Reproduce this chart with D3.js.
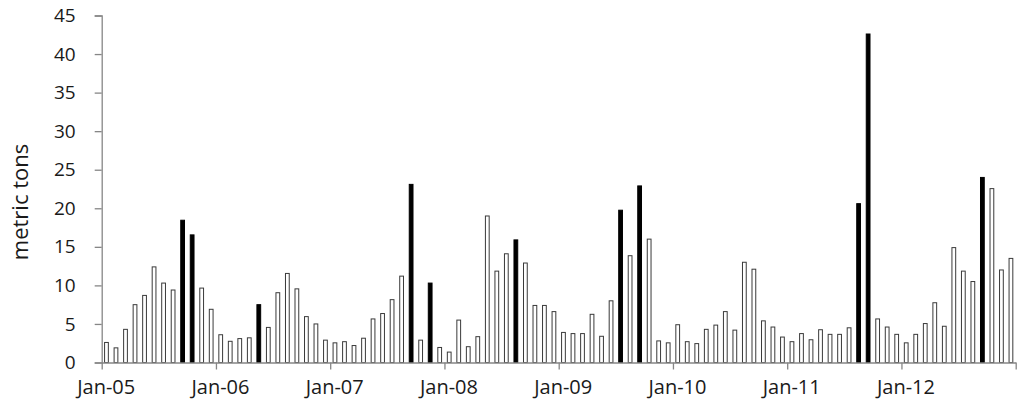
<!DOCTYPE html>
<html>
<head>
<meta charset="utf-8">
<script src="https://cdn.jsdelivr.net/npm/d3@7"></script>
<style>
  html, body { margin: 0; padding: 0; background: #fff; }
  svg { display: block; }
  text { font-family: "Open Sans", Lato, sans-serif; fill: #1a1a1a; }
</style>
</head>
<body>
<svg id="chart" width="1024" height="410"></svg>
<script>
// ---- data ----
const years = ["05", "06", "07", "08", "09", "10", "11", "12"];
const monthNames = ["Jan","Feb","Mar","Apr","May","Jun","Jul","Aug","Sep","Oct","Nov","Dec"];
const months = years.flatMap(y => monthNames.map(m => m + "-" + y));
const values = [
  // 2005
  2.6, 1.9, 4.3, 7.5, 8.7, 12.4, 10.3, 9.4, 18.45, 16.55, 9.65, 6.9,
  // 2006
  3.6, 2.75, 3.1, 3.2, 7.5, 4.55, 9.05, 11.55, 9.55, 5.95, 5.0, 2.9,
  // 2007
  2.55, 2.7, 2.2, 3.15, 5.65, 6.35, 8.15, 11.2, 23.1, 2.9, 10.3, 1.95,
  // 2008
  1.35, 5.5, 2.05, 3.35, 19.0, 11.85, 14.1, 15.9, 12.9, 7.4, 7.4, 6.6,
  // 2009
  3.9, 3.75, 3.75, 6.25, 3.4, 8.0, 19.75, 13.85, 22.9, 16.0, 2.8, 2.55,
  // 2010
  4.9, 2.7, 2.45, 4.3, 4.85, 6.6, 4.2, 13.0, 12.1, 5.4, 4.6, 3.3,
  // 2011
  2.7, 3.75, 2.95, 4.25, 3.65, 3.65, 4.5, 20.6, 42.6, 5.65, 4.6, 3.65,
  // 2012
  2.55, 3.65, 5.05, 7.75, 4.7, 14.9, 11.85, 10.5, 24.0, 22.55, 12.0, 13.5
];
const highlighted = ["Sep-05", "Oct-05", "May-06", "Sep-07", "Nov-07", "Aug-08",
                     "Jul-09", "Sep-09", "Aug-11", "Sep-11", "Sep-12"];
const yTicks = [0, 5, 10, 15, 20, 25, 30, 35, 40, 45];
const xTickLabels = ["Jan-05", "Jan-06", "Jan-07", "Jan-08", "Jan-09", "Jan-10", "Jan-11", "Jan-12", ""];
const yLabel = "metric tons";

// ---- layout ----
const x0 = 101.7, x1 = 1015.7, yTop = 15.5, yBot = 362.5;
const svg = d3.select("#chart");

const x = d3.scaleBand().domain(months).range([x0, x1]).paddingInner(0.5).paddingOuter(0.25);
const xIdx = d3.scaleLinear().domain([0, months.length]).range([x0, x1]);
const y = d3.scaleLinear().domain([0, 45]).range([yBot, yTop]);

const data = months.map((m, i) => ({ m, v: values[i], hi: highlighted.includes(m) }));

// bars
svg.append("g").selectAll("rect").data(data).join("rect")
  .attr("x", d => x(d.m) + 0.5)
  .attr("y", d => y(d.v))
  .attr("width", x.bandwidth() - 1)
  .attr("height", d => yBot - y(d.v))
  .attr("fill", d => d.hi ? "#000" : "#fff")
  .attr("stroke", d => d.hi ? "#000" : "#3a3a3a")
  .attr("stroke-width", 1);

// y axis
const yAxis = svg.append("g")
  .attr("transform", `translate(${x0},0)`)
  .call(d3.axisLeft(y).tickValues(yTicks).tickSize(7).tickPadding(19));
yAxis.selectAll("path, line").attr("stroke", "#868686").attr("stroke-width", 1.3);
yAxis.selectAll("text").style("font-size", "19px").attr("fill", "#1a1a1a");

// x axis
const xAxis = svg.append("g")
  .attr("transform", `translate(0,${yBot})`)
  .call(d3.axisBottom(xIdx)
        .tickValues(d3.range(0, months.length + 1, 12))
        .tickFormat((d, i) => xTickLabels[i])
        .tickSize(7).tickSizeOuter(0).tickPadding(10));
xAxis.selectAll("path, line").attr("stroke", "#868686").attr("stroke-width", 1.3);
xAxis.selectAll("text").style("font-size", "20px").attr("fill", "#1a1a1a").attr("dx", 4);

// y label
svg.append("text")
  .attr("transform", "translate(28,202) rotate(-90)")
  .attr("text-anchor", "middle")
  .style("font-size", "22px")
  .text(yLabel);
</script>
</body>
</html>
